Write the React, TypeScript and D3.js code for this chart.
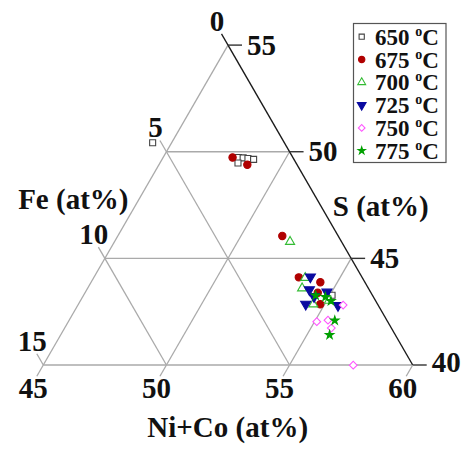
import React from "react";
import * as d3 from "d3";

// compositions: [Ni+Co, S, Fe] in at%
const s650: [number, number, number][] = [
  [44.23, 50.42, 5.35], [48.06, 49.73, 2.21], [48.26, 49.71, 2.03], [48.47, 49.68, 1.85],
  [48.72, 49.64, 1.64], [48.17, 49.47, 2.36], [55.09, 43.27, 1.64],
];
const s675: [number, number, number][] = [
  [47.82, 49.73, 2.45], [48.59, 49.39, 2.02], [51.68, 46.05, 2.27], [53.32, 44.11, 2.57],
  [54.31, 43.88, 1.81], [54.45, 43.39, 2.16], [54.82, 42.85, 2.33],
];
const s700: [number, number, number][] = [
  [52.13, 45.78, 2.09], [53.59, 44.09, 2.32], [53.71, 43.6, 2.69], [54.54, 42.85, 2.61],
  [55.09, 43.02, 1.89],
];
const s725: [number, number, number][] = [
  [53.78, 44.13, 2.09], [54.04, 43.53, 2.43], [54.39, 43.21, 2.4], [54.81, 43.42, 1.77],
  [54.23, 42.85, 2.92], [55.57, 42.79, 1.64],
];
const s750: [number, number, number][] = [
  [55.77, 42.81, 1.42], [55.09, 42.03, 2.88], [55.51, 42.1, 2.39], [55.83, 41.73, 2.44],
  [57.59, 39.99, 2.42],
];
const s775: [number, number, number][] = [
  [54.43, 43.26, 2.31], [54.86, 43.19, 1.95], [55.18, 43.0, 1.82], [55.79, 42.09, 2.12],
  [55.92, 41.41, 2.67],
];

const seriesLabels = ["650", "675", "700", "725", "750", "775"];
const niCoTicks = [45, 50, 55, 60];
const sTicks = [40, 45, 50, 55];
const feTicks = [0, 5, 10, 15];

type Style = { type: d3.SymbolType; size: number; rot: number; fill: string; stroke: string };
const styles: Style[] = [
  { type: d3.symbolSquare, size: 36, rot: 0, fill: "white", stroke: "#444" },
  { type: d3.symbolCircle, size: 42, rot: 0, fill: "#b00000", stroke: "#b00000" },
  { type: d3.symbolTriangle, size: 36, rot: 0, fill: "white", stroke: "#33bb33" },
  { type: d3.symbolTriangle, size: 44, rot: 180, fill: "#0a0aa0", stroke: "#0a0aa0" },
  { type: d3.symbolSquare, size: 30, rot: 45, fill: "white", stroke: "#ff55ff" },
  { type: d3.symbolStar, size: 22, rot: 0, fill: "#00a000", stroke: "#00a000" },
];
const allSeries = [s650, s675, s700, s725, s750, s775];

const xScale = d3.scaleLinear().domain([45, 60]).range([43.3, 412.7]);
const yScale = d3.scaleLinear().domain([40, 55]).range([365, 45.1]);
const proj = (nico: number, s: number): [number, number] => [xScale(nico + (s - 40) / 2), yScale(s)];

const FONT = "'Liberation Serif', 'Times New Roman', serif";
const GRID = "#aaaaaa";

export default function App() {
  const A = proj(45, 40);
  const B = proj(60, 40);
  const C = proj(45, 55);
  const lines: JSX.Element[] = [];
  // constant S lines (horizontal)
  [45, 50].forEach((s) => {
    const p1 = proj(45, s);
    const p2 = proj(100 - s, s);
    lines.push(<line key={"s" + s} x1={p1[0]} y1={p1[1]} x2={p2[0]} y2={p2[1]} stroke={GRID} strokeWidth={1.3} />);
  });
  // constant NiCo lines (parallel to left edge)
  [50, 55].forEach((n) => {
    const p1 = proj(n, 40);
    const p2 = proj(n, 100 - n);
    lines.push(<line key={"n" + n} x1={p1[0]} y1={p1[1]} x2={p2[0]} y2={p2[1]} stroke={GRID} strokeWidth={1.3} />);
  });
  // constant Fe lines (parallel to right edge)
  [5, 10].forEach((fe) => {
    const p1 = proj(45, 100 - 45 - fe);
    const p2 = proj(100 - 40 - fe, 40);
    lines.push(<line key={"f" + fe} x1={p1[0]} y1={p1[1]} x2={p2[0]} y2={p2[1]} stroke={GRID} strokeWidth={1.3} />);
  });

  const TL = 13;
  const up = [-0.5, -0.866];
  const dn = [-0.5, 0.866];

  return (
    <svg width={467} height={449} style={{ position: "absolute", left: 0, top: 0, background: "white" }}>
      <rect width={467} height={449} fill="white" />
      {lines}
      {/* edges */}
      <line x1={A[0]} y1={A[1]} x2={C[0]} y2={C[1]} stroke={GRID} strokeWidth={1.3} />
      <line x1={A[0]} y1={A[1]} x2={B[0]} y2={B[1]} stroke={GRID} strokeWidth={1.3} />
      <line x1={B[0]} y1={B[1]} x2={C[0]} y2={C[1]} stroke="#1a1a1a" strokeWidth={1.4} />
      {/* Fe ticks */}
      {feTicks.map((fe) => {
        const q = proj(45, 55 - fe);
        return (
          <g key={"ft" + fe}>
            <line x1={q[0]} y1={q[1]} x2={q[0] + up[0] * TL} y2={q[1] + up[1] * TL} stroke={fe === 0 ? "#1a1a1a" : GRID} strokeWidth={1.3} />
            <text x={q[0] - 11} y={q[1] - 14.5} textAnchor="middle" fontFamily={FONT} fontWeight="bold" fontSize={29} fill="#111">{fe}</text>
          </g>
        );
      })}
      {/* S ticks */}
      {sTicks.map((s) => {
        const q = proj(100 - s, s);
        return (
          <g key={"st" + s}>
            <line x1={q[0]} y1={q[1]} x2={q[0] + 14} y2={q[1]} stroke="#333" strokeWidth={1.4} />
            <text x={q[0] + 19} y={q[1] + (s === 40 ? 6.5 : 9.5)} textAnchor="start" fontFamily={FONT} fontWeight="bold" fontSize={29} fill="#111">{s}</text>
          </g>
        );
      })}
      {/* NiCo ticks */}
      {niCoTicks.map((n) => {
        const q = proj(n, 40);
        return (
          <g key={"nt" + n}>
            <line x1={q[0]} y1={q[1]} x2={q[0] + dn[0] * TL} y2={q[1] + dn[1] * TL} stroke={GRID} strokeWidth={1.3} />
            <text x={q[0] - 10} y={398} textAnchor="middle" fontFamily={FONT} fontWeight="bold" fontSize={29} fill="#111">{n}</text>
          </g>
        );
      })}
      {/* axis titles */}
      <text x={73.3} y={208.5} textAnchor="middle" fontFamily={FONT} fontWeight="bold" fontSize={29} fill="#111">Fe (at%)</text>
      <text x={380.7} y={215.8} textAnchor="middle" fontFamily={FONT} fontWeight="bold" fontSize={29} fill="#111">S (at%)</text>
      <text x={227.7} y={437} textAnchor="middle" fontFamily={FONT} fontWeight="bold" fontSize={29} fill="#111">Ni+Co (at%)</text>
      {/* data */}
      {allSeries.map((ser, i) => {
        const st = styles[i];
        const path = d3.symbol().type(st.type).size(st.size)()!;
        return (
          <g key={"ser" + i}>
            {ser.map((d, j) => {
              const [x, y] = proj(d[0], d[1]);
              return (
                <path key={j} d={path} transform={`translate(${x},${y}) rotate(${st.rot})`} fill={st.fill} stroke={st.stroke} strokeWidth={1.1} />
              );
            })}
          </g>
        );
      })}
      {/* legend */}
      <rect x={353.5} y={23.5} width={92.5} height={139} fill="white" stroke="#555" strokeWidth={1.2} />
      {seriesLabels.map((lab, i) => {
        const st = styles[i];
        const cy = 36.7 + i * 22.8;
        const path = d3.symbol().type(st.type).size(st.size * 0.75)()!;
        return (
          <g key={"lg" + i}>
            <path d={path} transform={`translate(361.7,${cy}) rotate(${st.rot})`} fill={st.fill} stroke={st.stroke} strokeWidth={1.1} />
            <text x={375} y={cy + 8} fontFamily={FONT} fontWeight="bold" fontSize={23} fill="#111">
              {lab + " "}
              <tspan fontSize={14} dy={-9}>o</tspan>
              <tspan dy={9}>C</tspan>
            </text>
          </g>
        );
      })}
    </svg>
  );
}
